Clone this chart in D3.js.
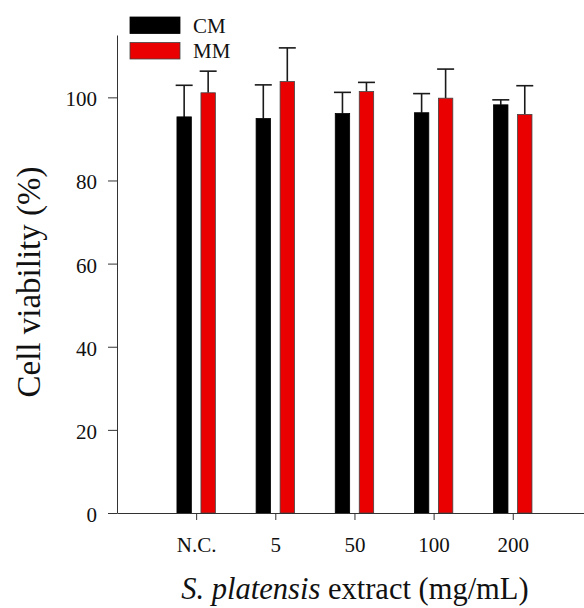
<!DOCTYPE html>
<html>
<head>
<meta charset="utf-8">
<script src="https://cdn.jsdelivr.net/npm/d3@7"></script>
<style>
  body { margin: 0; background: #fff; }
  svg { font-family: "Liberation Serif", "Times New Roman", serif; }
</style>
</head>
<body>
<script>
const categories = ["N.C.", "5", "50", "100", "200"]
const groups = ["CM", "MM"]
const cmMean = [95.3, 94.9, 96.1, 96.3, 98.2]
const cmErr = [7.6, 8.1, 5.1, 4.6, 1.2]
const mmMean = [101.1, 103.8, 101.4, 99.8, 95.9]
const mmErr = [5.2, 8.1, 2.2, 7.0, 6.9]
const yTicks = [0, 20, 40, 60, 80, 100]
const colors = { CM: "#000000", MM: "#ea0000" }

const w = 584
const h = 608

// one row per bar
let rows = []
categories.forEach((c, i) => {
  rows.push({ cat: c, idx: i + 1, group: "CM", v: cmMean[i], e: cmErr[i] })
  rows.push({ cat: c, idx: i + 1, group: "MM", v: mmMean[i], e: mmErr[i] })
})

const xscale = d3.scaleLinear()
  .domain([0, 5.9])
  .range([117, 584])

const yscale = d3.scaleLinear()
  .domain([0, 115])
  .range([513, 35])

const sub = d3.scaleBand()
  .domain(groups)
  .range([-19.2, 19.2])
  .paddingInner(0.4)

const svg = d3.select("body")
  .append("svg")
  .attr("width", w)
  .attr("height", h)

// error bars (upper only), drawn first so bars sit over the stems
const err = svg.append("g")
  .selectAll("g")
  .data(rows)
  .enter()
  .append("g")
  .attr("stroke", "#1a1a1a")
  .attr("stroke-width", 1.6)

err.append("line")
  .attr("x1", d => xscale(d.idx) + sub(d.group) + sub.bandwidth() / 2)
  .attr("x2", d => xscale(d.idx) + sub(d.group) + sub.bandwidth() / 2)
  .attr("y1", d => yscale(d.v))
  .attr("y2", d => yscale(d.v + d.e))

err.append("line")
  .attr("x1", d => xscale(d.idx) + sub(d.group) + sub.bandwidth() / 2 - 8.5)
  .attr("x2", d => xscale(d.idx) + sub(d.group) + sub.bandwidth() / 2 + 8.5)
  .attr("y1", d => yscale(d.v + d.e))
  .attr("y2", d => yscale(d.v + d.e))

svg.append("g")
  .selectAll("rect")
  .data(rows)
  .enter()
  .append("rect")
  .attr("x", d => xscale(d.idx) + sub(d.group))
  .attr("y", d => yscale(d.v))
  .attr("width", sub.bandwidth())
  .attr("height", d => yscale(0) - yscale(d.v))
  .attr("fill", d => colors[d.group])
  .attr("stroke", d => d.group == "MM" ? "#444" : "#000")
  .attr("stroke-width", 0.8)

// axes
const xAxis = d3.axisBottom(xscale)
  .tickValues([1, 2, 3, 4, 5])
  .tickFormat(d => categories[d - 1])
  .tickSize(7)
  .tickSizeOuter(0)
  .tickPadding(17)

const gx = svg.append("g")
  .attr("transform", "translate(0," + yscale(0) + ")")
  .call(xAxis)
gx.select(".domain").attr("stroke", "#333")
gx.selectAll(".tick line").attr("stroke", "#333")
gx.selectAll("text")
  .attr("font-size", 21)
  .attr("font-family", "Liberation Serif")
  .attr("fill", "#111")

const yAxis = d3.axisLeft(yscale)
  .tickValues(yTicks)
  .tickSize(9)
  .tickSizeOuter(0)
  .tickPadding(11)

const gy = svg.append("g")
  .attr("transform", "translate(" + xscale(0) + ",0)")
  .call(yAxis)
gy.select(".domain").attr("stroke", "#333")
gy.selectAll(".tick line").attr("stroke", "#333")
gy.selectAll("text")
  .attr("font-size", 21)
  .attr("font-family", "Liberation Serif")
  .attr("dy", "0.4em")
  .attr("fill", "#111")

// axis titles
svg.append("text")
  .attr("transform", "translate(40,282) rotate(-90)")
  .attr("text-anchor", "middle")
  .attr("font-size", 33)
  .attr("fill", "#111")
  .text("Cell viability (%)")

const xt = svg.append("text")
  .attr("x", 355)
  .attr("y", 599)
  .attr("text-anchor", "middle")
  .attr("font-size", 30.5)
  .attr("fill", "#111")
xt.append("tspan").attr("font-style", "italic").text("S. platensis")
xt.append("tspan").text(" extract (mg/mL)")

// legend
const leg = svg.append("g")
  .selectAll("g")
  .data(groups)
  .enter()
  .append("g")
  .attr("transform", (d, i) => "translate(130," + (17 + i * 25.5) + ")")

leg.append("rect")
  .attr("width", 50)
  .attr("height", 16.5)
  .attr("fill", d => colors[d])
  .attr("stroke", d => d == "MM" ? "#444" : "#000")
  .attr("stroke-width", 0.8)

leg.append("text")
  .attr("x", 63)
  .attr("y", 15.5)
  .attr("font-size", 21)
  .attr("fill", "#111")
  .text(d => d)
</script>
</body>
</html>
